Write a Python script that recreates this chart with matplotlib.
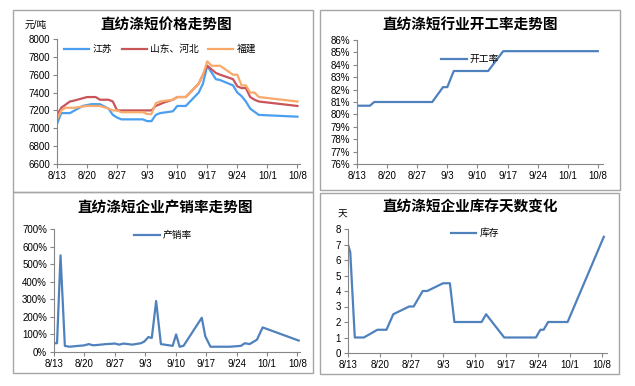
import matplotlib.pyplot as plt
from matplotlib.patches import Rectangle

plt.rcParams['font.family'] = ['Liberation Sans', 'Noto Sans CJK SC', 'DejaVu Sans']

W, H = 635, 386

# x axis: day offset from 8/13
tick_days = [0, 7, 14, 21, 28, 35, 42, 49, 56]
tick_labels = ['8/13', '8/20', '8/27', '9/3', '9/10', '9/17', '9/24', '10/1', '10/8']

# price (yuan/ton)
js_days = [0, 1, 3, 6, 8, 10, 12, 13, 14, 15, 20, 21, 22, 23, 24, 27, 28, 30, 33, 34, 35, 37, 38, 41, 42, 43, 44, 45, 47, 56]
js_price = [7050, 7170, 7170, 7250, 7270, 7270, 7220, 7150, 7120, 7100, 7100, 7080, 7080, 7150, 7170, 7190, 7250, 7250, 7400, 7500, 7700, 7550, 7540, 7480, 7400, 7360, 7300, 7220, 7150, 7130]
sd_days = [0, 1, 3, 4, 7, 9, 10, 12, 13, 14, 22, 23, 25, 27, 28, 30, 33, 34, 35, 37, 38, 41, 42, 43, 44, 45, 46, 47, 56]
sd_price = [7150, 7230, 7300, 7310, 7350, 7350, 7320, 7320, 7300, 7200, 7200, 7250, 7290, 7320, 7350, 7350, 7500, 7600, 7700, 7620, 7600, 7550, 7470, 7450, 7450, 7350, 7320, 7300, 7250]
fj_days = [0, 1, 2, 4, 7, 10, 12, 13, 14, 15, 20, 21, 22, 23, 24, 27, 28, 30, 33, 34, 35, 36, 38, 41, 42, 43, 44, 45, 46, 47, 56]
fj_price = [7100, 7200, 7230, 7230, 7250, 7250, 7220, 7200, 7200, 7180, 7180, 7160, 7160, 7280, 7300, 7320, 7350, 7350, 7500, 7600, 7750, 7700, 7700, 7600, 7600, 7480, 7480, 7400, 7400, 7350, 7300]

# operating rate (%)
op_days = [0, 3, 4, 17.5, 20, 21, 22.5, 30.5, 34, 56]
op_rate = [80.7, 80.7, 81.0, 81.0, 82.2, 82.2, 83.5, 83.5, 85.1, 85.1]

# sales/production ratio (%)
ps_days = [0, 0.7, 1.5, 2.5, 3.5, 7, 8, 9, 10, 12, 14, 15, 16, 18, 20, 20.8, 21.7, 22.5, 23.5, 24.6, 27.3, 28.1, 28.9, 29.8, 34, 34.8, 36, 40.5, 43, 43.9, 45, 46.7, 48, 56.3]
ps_rate = [50, 50, 550, 35, 30, 38, 45, 38, 40, 45, 48, 42, 48, 42, 50, 60, 85, 80, 290, 45, 35, 100, 30, 35, 195, 90, 30, 30, 35, 50, 45, 70, 140, 65]

# inventory days
inv_days = [0, 0.5, 1.5, 3.5, 6.5, 8.5, 10, 13.5, 14.5, 16.5, 17.5, 21, 22.5, 23.5, 29.5, 30.5, 34.5, 41.5, 42.5, 43.2, 44.2, 48.5, 56.5]
inv_val = [7.0, 6.5, 1.0, 1.0, 1.5, 1.5, 2.5, 3.0, 3.0, 4.0, 4.0, 4.5, 4.5, 2.0, 2.0, 2.5, 1.0, 1.0, 1.5, 1.5, 2.0, 2.0, 7.5]

fig = plt.figure(figsize=(W / 100, H / 100), dpi=100)

def px_rect(x0, y0, x1, y1):
    return [x0 / W, 1 - y1 / H, (x1 - x0) / W, (y1 - y0) / H]

# panel frames
for x0, y0, x1, y1 in [(13, 10, 313, 192), (320, 10, 620, 190), (13, 192, 313, 373), (320, 193, 619, 374)]:
    fig.patches.append(Rectangle((x0 / W, 1 - y1 / H), (x1 - x0) / W, (y1 - y0) / H,
                                 transform=fig.transFigure, fill=False, edgecolor='#a6a6a6', lw=1))

def style(ax, x_end, ylim, yticks, ylabels):
    ax.set_xlim(0, x_end)
    ax.set_ylim(*ylim)
    ax.set_xticks(tick_days)
    ax.set_xticklabels(tick_labels)
    ax.set_yticks(yticks)
    ax.set_yticklabels(ylabels)
    for s in ['top', 'right']:
        ax.spines[s].set_visible(False)
    for s in ['left', 'bottom']:
        ax.spines[s].set_color('#868686')
        ax.spines[s].set_linewidth(0.8)
    ax.tick_params(labelsize=7, length=3, width=0.8, color='#868686', pad=2)
    ax.set_facecolor('none')

def fx(x):
    return x / W

def fy(y):
    return 1 - y / H

title_kw = dict(ha='center', va='center', fontsize=10.5, fontweight='bold')
leg_kw = dict(frameon=False, fontsize=7, handlelength=2.6, handletextpad=0.3)

# panel 1
ax1 = fig.add_axes(px_rect(57, 39, 300, 164))
ax1.plot(js_days, js_price, color='#4a9ff0', lw=1.6, label='江苏')
ax1.plot(sd_days, sd_price, color='#c9555a', lw=1.6, label='山东、河北')
ax1.plot(fj_days, fj_price, color='#f9aa6a', lw=1.6, label='福建')
style(ax1, 56.6, (6600, 8000), range(6600, 8001, 200), [str(v) for v in range(6600, 8001, 200)])
fig.text(fx(166), fy(25), '直纺涤短价格走势图', **title_kw)
fig.text(fx(36), fy(25), '元/吨', ha='center', va='center', fontsize=7)
ax1.legend(loc='center', bbox_to_anchor=(fx(160), fy(49)), bbox_transform=fig.transFigure,
           ncol=3, columnspacing=1.0, **leg_kw)

# panel 2
ax2 = fig.add_axes(px_rect(357, 40, 603, 164))
ax2.plot(op_days, op_rate, color='#4f81bd', lw=1.6, label='开工率')
style(ax2, 57.2, (76, 86), range(76, 87), ['%d%%' % v for v in range(76, 87)])
fig.text(fx(470), fy(26), '直纺涤短行业开工率走势图', **title_kw)
ax2.legend(loc='center', bbox_to_anchor=(fx(470), fy(59)), bbox_transform=fig.transFigure, **leg_kw)

# panel 3
ax3 = fig.add_axes(px_rect(54, 229, 300, 352))
ax3.plot(ps_days, ps_rate, color='#4f81bd', lw=1.6, label='产销率')
style(ax3, 56.6, (0, 700), range(0, 701, 100), ['%d%%' % v for v in range(0, 701, 100)])
fig.text(fx(165), fy(208), '直纺涤短企业产销率走势图', **title_kw)
ax3.legend(loc='center', bbox_to_anchor=(fx(163), fy(235)), bbox_transform=fig.transFigure, **leg_kw)

# panel 4
ax4 = fig.add_axes(px_rect(348, 229, 607, 353))
ax4.plot(inv_days, inv_val, color='#4f81bd', lw=1.6, label='库存')
style(ax4, 57.2, (0, 8), range(0, 9), [str(v) for v in range(0, 9)])
fig.text(fx(470), fy(207), '直纺涤短企业库存天数变化', **title_kw)
fig.text(fx(342), fy(215), '天', ha='center', va='center', fontsize=7)
ax4.legend(loc='center', bbox_to_anchor=(fx(475), fy(233)), bbox_transform=fig.transFigure, **leg_kw)

fig.savefig('out.png', dpi=100)
